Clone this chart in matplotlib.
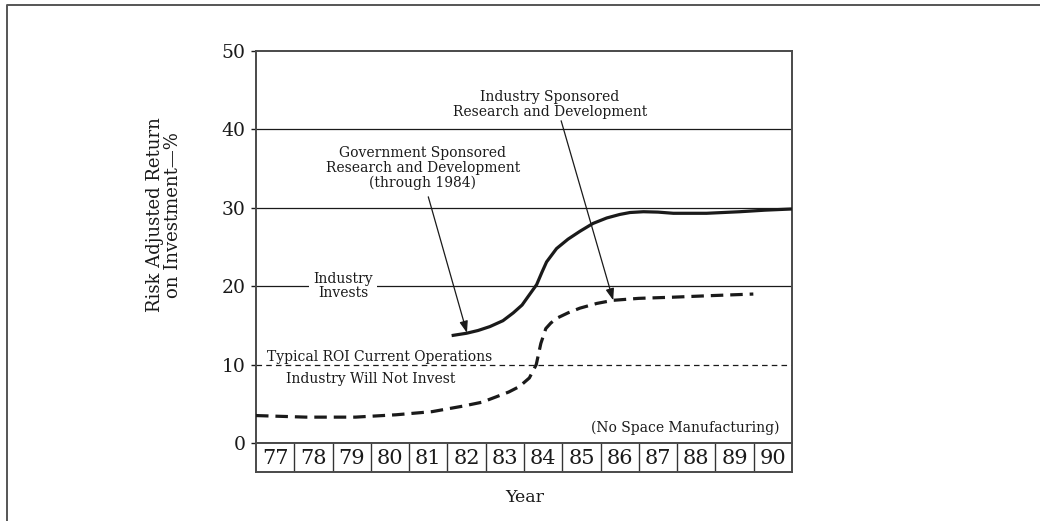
import matplotlib
matplotlib.use("Agg")
import matplotlib.pyplot as plt
from matplotlib.lines import Line2D

plt.rcParams['font.family'] = ['DejaVu Serif']
plt.rcParams['lines.scale_dashes'] = False

# Year cells along the bottom
years = [77, 78, 79, 80, 81, 82, 83, 84, 85, 86, 87, 88, 89, 90]
y_ticks = [0, 10, 20, 30, 40, 50]

# Government sponsored R&D (through 1984), then industry sponsored
solid_x = [81.61, 82.00, 82.30, 82.61, 82.95, 83.22, 83.45, 83.61, 83.83, 83.97,
           84.09, 84.35, 84.65, 84.96, 85.30, 85.66, 86.00, 86.27, 86.62, 87.00,
           87.40, 88.27, 89.14, 89.80, 90.50]
solid_y = [13.7, 14.0, 14.35, 14.85, 15.6, 16.6, 17.6, 18.7, 20.2, 21.8,
           23.1, 24.8, 26.0, 27.0, 28.0, 28.7, 29.15, 29.4, 29.5, 29.45,
           29.3, 29.3, 29.5, 29.7, 29.85]

# Industry will not invest / industry sponsored path
dash_x = [76.50, 77.80, 79.10, 80.16, 81.10, 81.90, 82.40, 82.78, 83.10, 83.38,
          83.64, 83.82, 83.94, 84.07, 84.20, 84.35, 84.65, 84.96, 85.40, 85.83,
          86.50, 87.40, 88.40, 89.49]
dash_y = [3.5, 3.3, 3.3, 3.6, 4.0, 4.7, 5.2, 5.9, 6.5, 7.2,
          8.3, 10.0, 12.7, 14.6, 15.3, 15.9, 16.6, 17.2, 17.8, 18.2,
          18.45, 18.6, 18.8, 19.0]

roi_level = 10
grid_levels = [20, 30, 40]

# Callout arrows: (tail x, tail y) -> (head x, head y)
gov_arrow = [(81.0, 31.4), (82.01, 14.05)]
ind_arrow = [(84.47, 41.1), (85.83, 18.2)]

ink = '#1a1a1a'
frame_col = '#4a4a4a'

fig = plt.figure(figsize=(10.40, 5.21), dpi=100)
ax = fig.add_axes([256 / 1040, 78 / 521, 536 / 1040, 392 / 521])
axy = fig.add_axes([256 / 1040, 49 / 521, 536 / 1040, 29 / 521])

ax.set_xlim(76.5, 90.5)
ax.set_ylim(0, 50)
for s in ['left', 'top', 'right', 'bottom']:
    ax.spines[s].set_color(frame_col)
    ax.spines[s].set_linewidth(1.4)
ax.set_xticks([])
ax.set_yticks(y_ticks)
ax.set_yticklabels([str(v) for v in y_ticks], fontsize=13.5)
ax.tick_params(axis='y', direction='out', length=3.5, width=1, pad=4,
               colors=ink, labelcolor=ink)

for lv in grid_levels:
    ax.axhline(lv, color=ink, lw=0.9, zorder=1)
ax.axhline(roi_level, color=ink, lw=0.9, ls=(0, (4, 3)), zorder=1)

ax.plot(solid_x, solid_y, color=ink, lw=2.3, solid_capstyle='butt',
        solid_joinstyle='round', zorder=3)
ax.plot(dash_x, dash_y, color=ink, lw=2.3, ls=(0, (9, 5)),
        dash_capstyle='butt', zorder=3)

txt = dict(fontsize=10, color=ink)
ax.text(78.77, 20, "Industry\nInvests", ha='center', va='center',
        linespacing=1.0, zorder=4,
        bbox=dict(boxstyle='square,pad=0.3', fc='white', ec='none'), **txt)
ax.text(76.8, 11.0, "Typical ROI Current Operations", ha='left', va='center', **txt)
ax.text(77.28, 8.1, "Industry Will Not Invest", ha='left', va='center', **txt)
ax.text(90.18, 1.95, "(No Space Manufacturing)", ha='right', va='center', **txt)

ax.text(80.86, 35.1, "Government Sponsored\nResearch and Development\n(through 1984)",
        ha='center', va='center', linespacing=1.05, zorder=4, **txt)
ax.text(84.18, 43.2, "Industry Sponsored\nResearch and Development",
        ha='center', va='center', linespacing=1.05, zorder=4, **txt)

arrow_style = dict(arrowstyle='-|>,head_length=0.7,head_width=0.25',
                   color=ink, lw=0.9, shrinkA=0, shrinkB=0)
for (tx, ty), (hx, hy) in [gov_arrow, ind_arrow]:
    ax.annotate("", xy=(hx, hy), xytext=(tx, ty), arrowprops=arrow_style, zorder=4)

# Year cells
axy.set_xlim(76.5, 90.5)
axy.set_ylim(0, 1)
axy.set_xticks([])
axy.set_yticks([])
for s in ['left', 'top', 'right', 'bottom']:
    axy.spines[s].set_color(frame_col)
    axy.spines[s].set_linewidth(1.4)
for yr in years[:-1]:
    axy.axvline(yr + 0.5, color='#333333', lw=1.0)
for yr in years:
    axy.text(yr, 0.47, str(yr), ha='center', va='center', fontsize=15, color=ink)

fig.text(164 / 1040, (521 - 215) / 521, "Risk Adjusted Return\non Investment\u2014%",
         rotation=90, ha='center', va='center', fontsize=13, linespacing=0.95,
         multialignment='center', color=ink)
fig.text(525 / 1040, (521 - 498) / 521, "Year", ha='center', va='center',
         fontsize=12.5, color=ink)

# Outer frame
fig.add_artist(Line2D([7 / 1040, 7 / 1040, 1.0], [0.0, 1 - 5 / 521, 1 - 5 / 521],
                      transform=fig.transFigure, color='#555555', lw=1.4))

fig.savefig("out.png", dpi=100)
